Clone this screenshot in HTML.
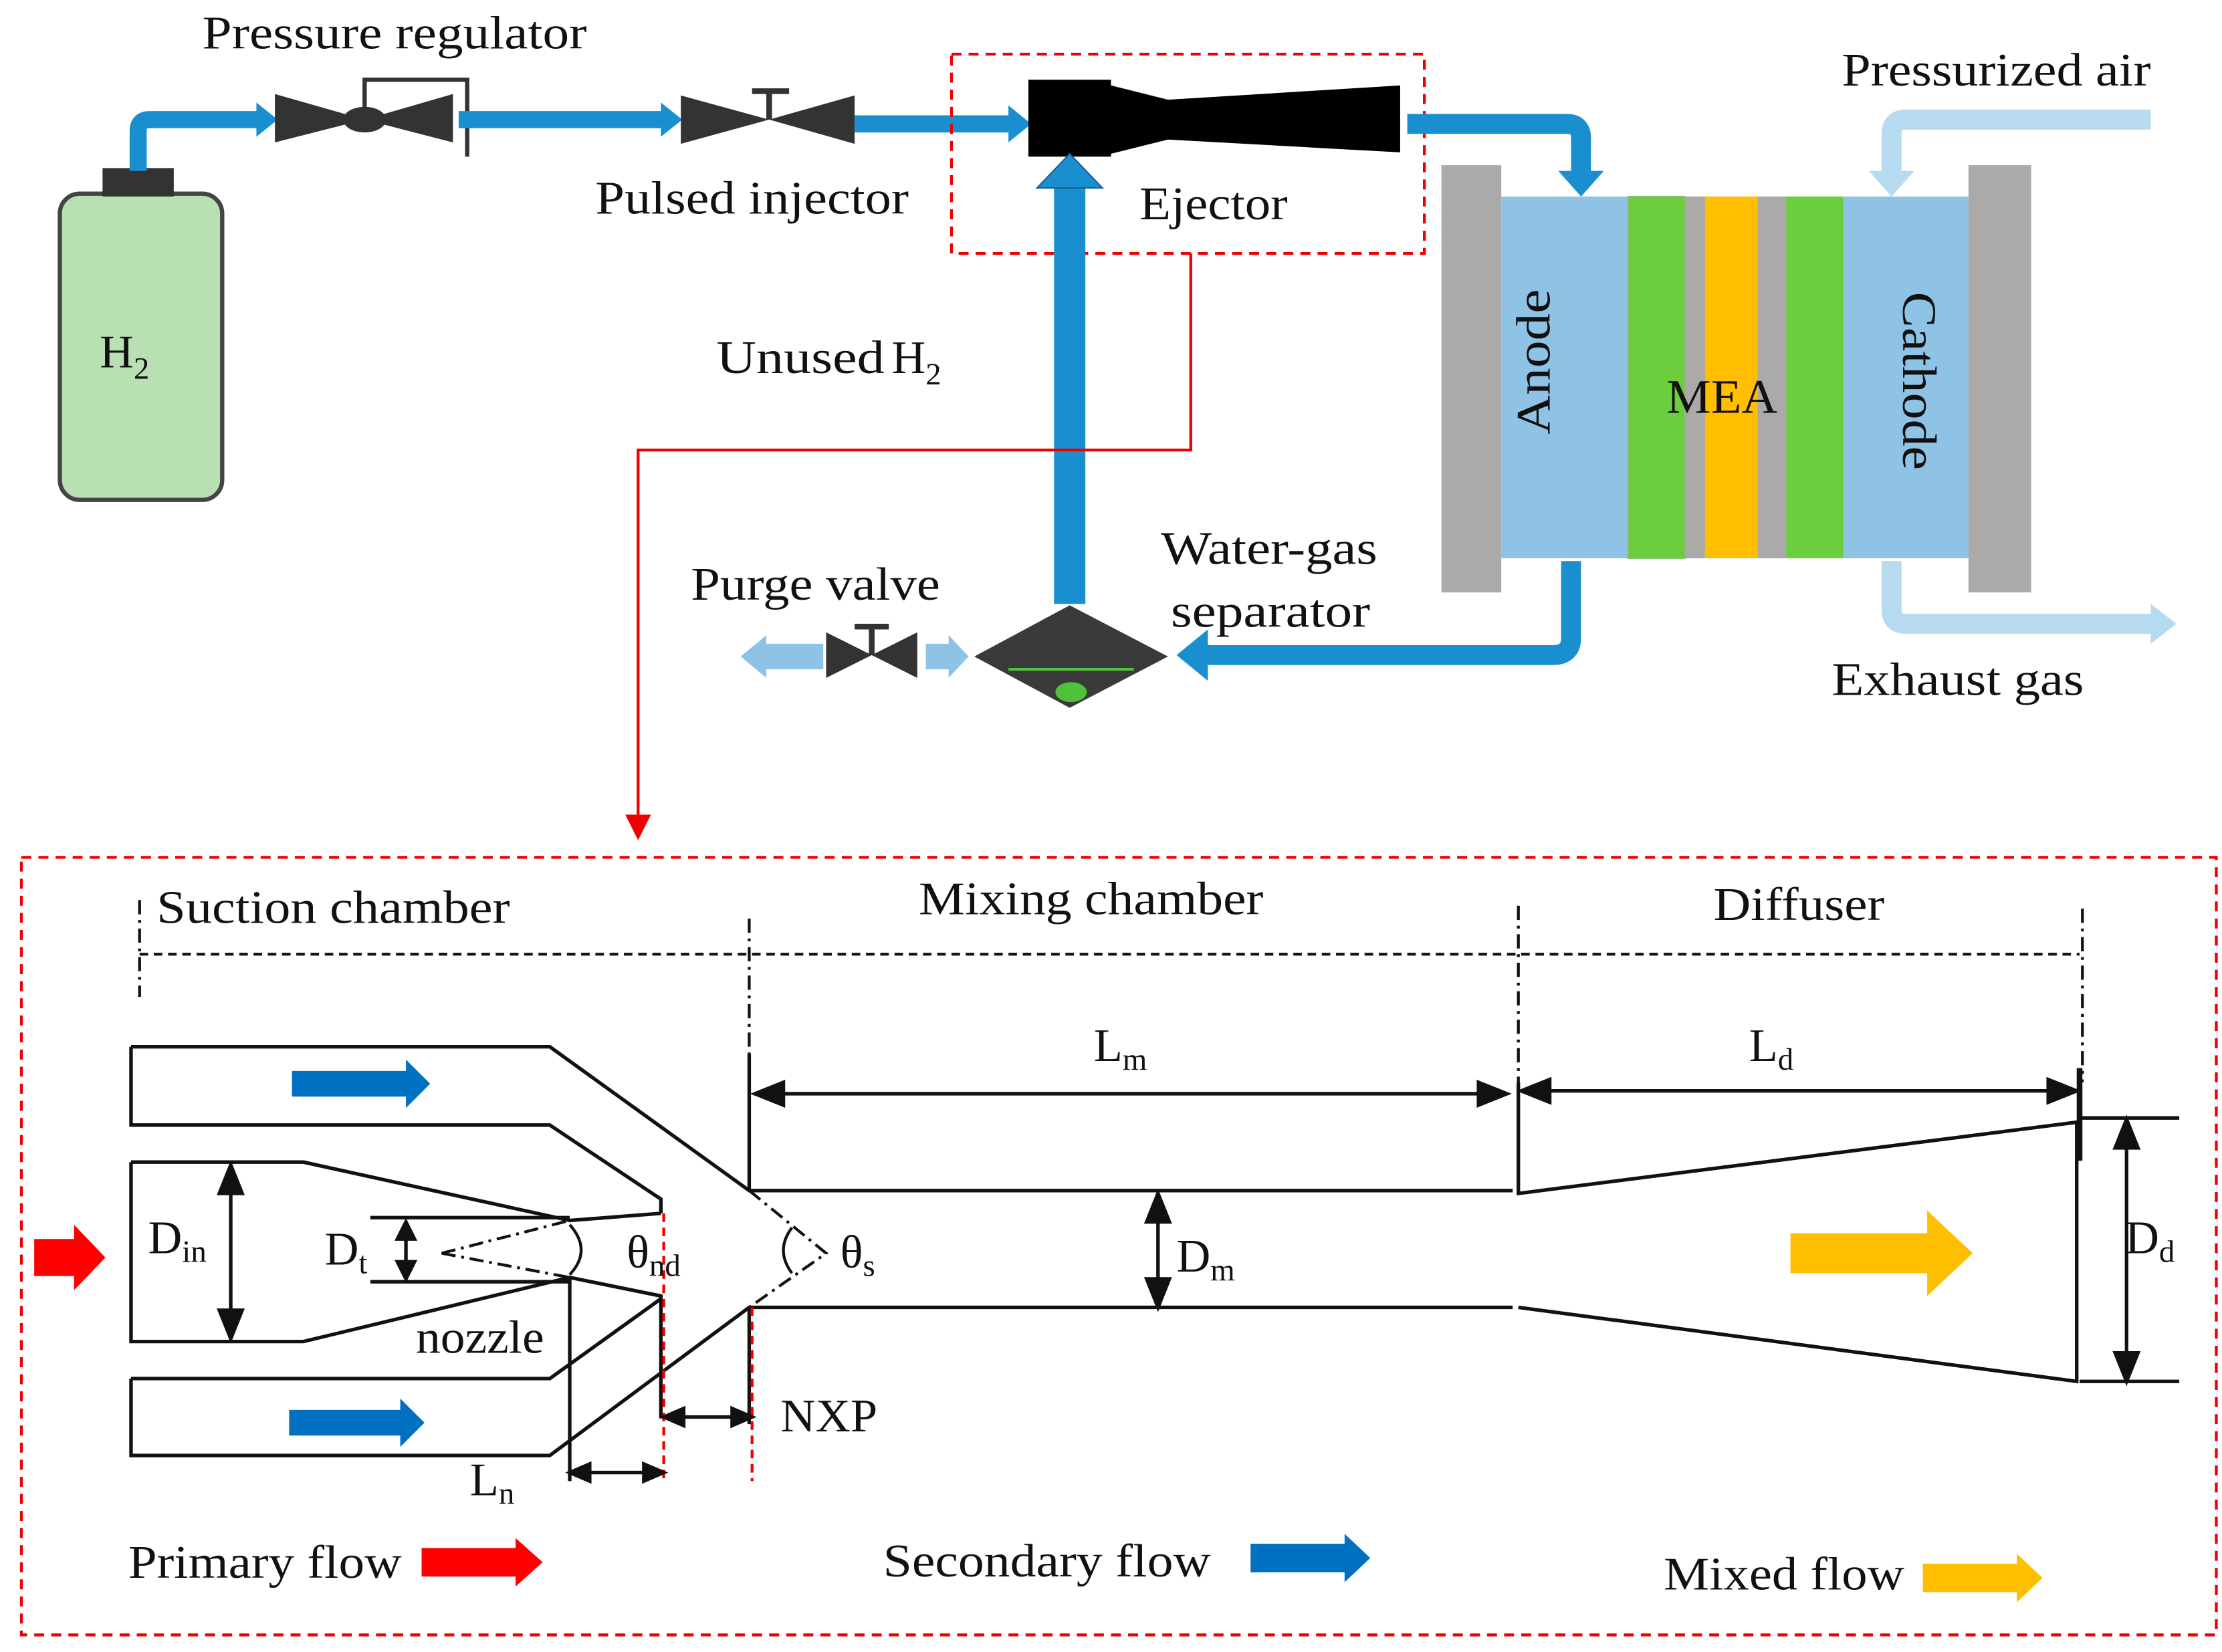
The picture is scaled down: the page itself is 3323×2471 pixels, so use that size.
<!DOCTYPE html>
<html><head><meta charset="utf-8"><style>
html,body{margin:0;padding:0;background:#fff}
svg{display:block}
text{font-family:"Liberation Serif",serif;fill:#111}
</style></head><body>
<svg width="3323" height="2471" viewBox="0 0 1560 1160" preserveAspectRatio="none" xmlns="http://www.w3.org/2000/svg">
<!-- H2 tank -->
<rect x="42" y="136" width="114" height="215" rx="14" fill="#b9e0b2" stroke="#444" stroke-width="3"/>
<rect x="72" y="118" width="50" height="20" fill="#333"/>
<text x="70" y="258" font-size="33">H<tspan font-size="22" dy="8">2</tspan></text>
<path d="M97 120 V92 Q97 84 105 84 H182" fill="none" stroke="#1a8fd0" stroke-width="12"/>
<polygon points="180,72 195,84 180,96" fill="#1a8fd0"/>
<!-- pressure regulator -->
<polygon points="193,66 256,84 193,100" fill="#333"/>
<polygon points="318,66 256,84 318,100" fill="#333"/>
<ellipse cx="256" cy="84" rx="15" ry="9" fill="#333"/>
<path d="M256 76 V56 H328 V110" fill="none" stroke="#333" stroke-width="3"/>
<text x="142" y="34" font-size="33" textLength="270" lengthAdjust="spacingAndGlyphs">Pressure regulator</text>
<path d="M322 84 H466" stroke="#1a8fd0" stroke-width="12"/>
<polygon points="464,72 479,84 464,96" fill="#1a8fd0"/>
<!-- pulsed injector -->
<polygon points="478,67 540,84 478,101" fill="#333"/>
<polygon points="600,67 540,84 600,101" fill="#333"/>
<path d="M540 84 V64 M528 64 H554" stroke="#333" stroke-width="4"/>
<text x="418" y="150" font-size="33" textLength="220" lengthAdjust="spacingAndGlyphs">Pulsed injector</text>
<path d="M600 87 H710" stroke="#1a8fd0" stroke-width="12"/>
<polygon points="708,74 724,87 708,100" fill="#1a8fd0"/>
<!-- ejector -->
<rect x="722" y="56" width="58" height="54" fill="#000"/>
<polygon points="780,60 820,70 983,60 983,107 820,98 780,108" fill="#000"/>
<text x="800" y="154" font-size="33" textLength="104" lengthAdjust="spacingAndGlyphs">Ejector</text>
<rect x="668" y="38" width="332" height="140" fill="none" stroke="#e00" stroke-width="2" stroke-dasharray="7,5"/>
<path d="M988 87 H1100 Q1110 87 1110 97 V122" fill="none" stroke="#1a8fd0" stroke-width="14"/>
<polygon points="1094,120 1126,120 1110,138" fill="#1a8fd0"/>
<path d="M1510 84 H1338 Q1328 84 1328 94 V122" fill="none" stroke="#b6daf0" stroke-width="14"/>
<polygon points="1312,120 1344,120 1328,138" fill="#b6daf0"/>
<text x="1293" y="60" font-size="33" textLength="217" lengthAdjust="spacingAndGlyphs">Pressurized air</text>
<!-- fuel cell -->
<rect x="1012" y="116" width="42" height="300" fill="#aca9a9"/>
<rect x="1382" y="116" width="44" height="300" fill="#aca9a9"/>
<rect x="1054" y="138" width="328" height="254" fill="#8ec3e6"/>
<rect x="1143" y="138" width="40" height="254" fill="#6ccd3f" stroke="#8fbf70"/>
<rect x="1183" y="138" width="14" height="254" fill="#aca9a9"/>
<rect x="1197" y="138" width="37" height="254" fill="#ffbf00"/>
<rect x="1234" y="138" width="20" height="254" fill="#aca9a9"/>
<rect x="1254" y="138" width="40" height="254" fill="#6ccd3f"/>
<text font-size="34" transform="translate(1088,305) rotate(-90)" textLength="102" lengthAdjust="spacingAndGlyphs">Anode</text>
<text font-size="34" transform="translate(1336,205) rotate(90)" textLength="125" lengthAdjust="spacingAndGlyphs">Cathode</text>
<text x="1170" y="290" font-size="34" textLength="78" lengthAdjust="spacingAndGlyphs">MEA</text>
<path d="M1328 394 V428 Q1328 438 1338 438 H1512" fill="none" stroke="#b6daf0" stroke-width="14"/>
<polygon points="1510,424 1528,438 1510,452" fill="#b6daf0"/>
<text x="1286" y="488" font-size="33" textLength="177" lengthAdjust="spacingAndGlyphs">Exhaust gas</text>
<path d="M1103 394 V448 Q1103 460 1090 460 H840" fill="none" stroke="#1a8fd0" stroke-width="14"/>
<polygon points="848,442 826,460 848,478" fill="#1a8fd0"/>
<text x="815" y="396" font-size="33" textLength="152" lengthAdjust="spacingAndGlyphs">Water-gas</text>
<text x="822" y="440" font-size="33" textLength="140" lengthAdjust="spacingAndGlyphs">separator</text>
<polygon points="684,461 751,425 820,461 751,497" fill="#3a3a3a"/>
<path d="M708 470 H796" stroke="#4ec23a" stroke-width="2"/>
<ellipse cx="752" cy="486" rx="11" ry="7" fill="#4ec23a"/>
<path d="M751 424 V128" stroke="#1a8fd0" stroke-width="22"/>
<polygon points="728,132 751,108 774,132" fill="#1a8fd0" stroke="#1a5f90"/>
<text x="503" y="262" font-size="33"><tspan textLength="118" lengthAdjust="spacingAndGlyphs">Unused</tspan><tspan x="626">H</tspan><tspan font-size="22" dy="8">2</tspan></text>
<polygon points="650,452 666,452 666,446 680,461 666,476 666,470 650,470" fill="#8ec3e6"/>
<polygon points="580,444 612,460 580,476" fill="#333"/>
<polygon points="644,444 612,460 644,476" fill="#333"/>
<path d="M612 460 V440 M600 440 H624" stroke="#333" stroke-width="4"/>
<polygon points="578,452 538,452 538,446 520,461 538,476 538,470 578,470" fill="#8ec3e6"/>
<text x="485" y="421" font-size="33" textLength="175" lengthAdjust="spacingAndGlyphs">Purge valve</text>
<path d="M836 178 V316 H448 V576" fill="none" stroke="#e00" stroke-width="2"/>
<polygon points="439,572 457,572 448,590" fill="#e00"/>
<!-- bottom box -->
<rect x="15" y="602" width="1541" height="546" fill="none" stroke="#e00" stroke-width="2" stroke-dasharray="7,5"/>
<g font-size="33">
<text x="110" y="648" textLength="248" lengthAdjust="spacingAndGlyphs">Suction chamber</text>
<text x="645" y="642" textLength="242" lengthAdjust="spacingAndGlyphs">Mixing  chamber</text>
<text x="1203" y="646" textLength="120" lengthAdjust="spacingAndGlyphs">Diffuser</text>
</g>
<g stroke="#111" stroke-width="2" fill="none">
<path d="M98 670 H1460" stroke-dasharray="6,4"/>
<path d="M98 632 V700" stroke-dasharray="10,4,2,4"/>
<path d="M526 645 V740" stroke-dasharray="10,4,2,4"/>
<path d="M1066 636 V760" stroke-dasharray="10,4,2,4"/>
<path d="M1462 638 V760" stroke-dasharray="10,4,2,4"/>
</g>
<g stroke="#111" stroke-width="2.5" fill="none">
<path d="M92 735 H386 L526 836 H1062"/>
<path d="M92 735 V790 H386 L464 842 V852"/>
<path d="M92 816 H213 L400 857 L464 852"/>
<path d="M92 816 V942 H213 L400 897 L464 910 V996"/>
<path d="M92 968 H386 L464 912"/>
<path d="M92 968 V1022 H386 L526 918 H1062"/>
<path d="M400 897 V1040"/>
<path d="M526 740 V836"/>
<path d="M526 918 V1000"/>
<path d="M1066 760 V838 L1458 788 V970 L1066 918"/>
<path d="M1460 785 H1530 M1460 970 H1530"/>
<path d="M260 855 H400 M260 900 H400"/>
</g>
<path d="M1460 750 V815" stroke="#111" stroke-width="4"/>
<g stroke="#111" stroke-width="2" fill="none" stroke-dasharray="10,4,2,4">
<path d="M310 880 L400 857 M310 880 L400 897"/>
<path d="M526 836 L580 880 L526 918"/>
</g>
<path d="M400 860 Q416 878 400 895" stroke="#111" stroke-width="2" fill="none"/>
<path d="M556 862 Q544 878 556 894" stroke="#111" stroke-width="2" fill="none"/>
<path d="M466 852 V1040 M528 918 V1040" stroke="#e00" stroke-width="2" stroke-dasharray="6,4"/>
<g stroke="#111" stroke-width="2.5" fill="#111">
<path d="M540 768 H1048"/><polygon points="530,768 550,760 550,776"/><polygon points="1058,768 1038,760 1038,776"/>
<path d="M1078 766 H1448"/><polygon points="1068,766 1088,758 1088,774"/><polygon points="1458,766 1438,758 1438,774"/>
<path d="M162 828 V930"/><polygon points="162,818 154,838 170,838"/><polygon points="162,940 154,920 170,920"/>
<path d="M285 864 V892"/><polygon points="285,858 279,870 291,870"/><polygon points="285,898 279,886 291,886"/>
<path d="M813 848 V908"/><polygon points="813,838 805,858 821,858"/><polygon points="813,918 805,898 821,898"/>
<path d="M1493 796 V960"/><polygon points="1493,786 1485,806 1501,806"/><polygon points="1493,970 1485,950 1501,950"/>
<path d="M476 995 H518"/><polygon points="466,995 480,989 480,1001"/><polygon points="528,995 514,989 514,1001"/>
<path d="M410 1034 H456"/><polygon points="400,1034 414,1028 414,1040"/><polygon points="466,1034 452,1028 452,1040"/>
</g>
<g font-size="33">
<text x="768" y="745">L<tspan font-size="22" dy="6">m</tspan></text>
<text x="1228" y="745">L<tspan font-size="22" dy="6">d</tspan></text>
<text x="104" y="880">D<tspan font-size="22" dy="6">in</tspan></text>
<text x="228" y="888">D<tspan font-size="22" dy="6">t</tspan></text>
<text x="440" y="890">θ<tspan font-size="22" dy="6">nd</tspan></text>
<text x="590" y="890">θ<tspan font-size="22" dy="6">s</tspan></text>
<text x="826" y="893">D<tspan font-size="22" dy="6">m</tspan></text>
<text x="1492" y="880">D<tspan font-size="22" dy="6">d</tspan></text>
<text x="292" y="950" textLength="90" lengthAdjust="spacingAndGlyphs">nozzle</text>
<text x="548" y="1005" textLength="68" lengthAdjust="spacingAndGlyphs">NXP</text>
<text x="330" y="1050">L<tspan font-size="22" dy="6">n</tspan></text>
<text x="90" y="1108" textLength="192" lengthAdjust="spacingAndGlyphs">Primary  flow</text>
<text x="620" y="1107" textLength="230" lengthAdjust="spacingAndGlyphs">Secondary flow</text>
<text x="1168" y="1116" textLength="169" lengthAdjust="spacingAndGlyphs">Mixed  flow</text>
</g>
<polygon points="205,752 285,752 285,744 302,761 285,778 285,770 205,770" fill="#0070c0"/>
<polygon points="203,990 281,990 281,982 298,999 281,1016 281,1008 203,1008" fill="#0070c0"/>
<polygon points="24,870 52,870 52,860 74,883 52,906 52,896 24,896" fill="#f00"/>
<polygon points="1257,866 1353,866 1353,850 1385,880 1353,910 1353,894 1257,894" fill="#ffbf00"/>
<polygon points="296,1087 362,1087 362,1080 381,1097 362,1114 362,1107 296,1107" fill="#f00"/>
<polygon points="878,1084 944,1084 944,1077 962,1094 944,1111 944,1104 878,1104" fill="#0070c0"/>
<polygon points="1350,1098 1416,1098 1416,1091 1434,1108 1416,1125 1416,1118 1350,1118" fill="#ffbf00"/>
</svg>
</body></html>
